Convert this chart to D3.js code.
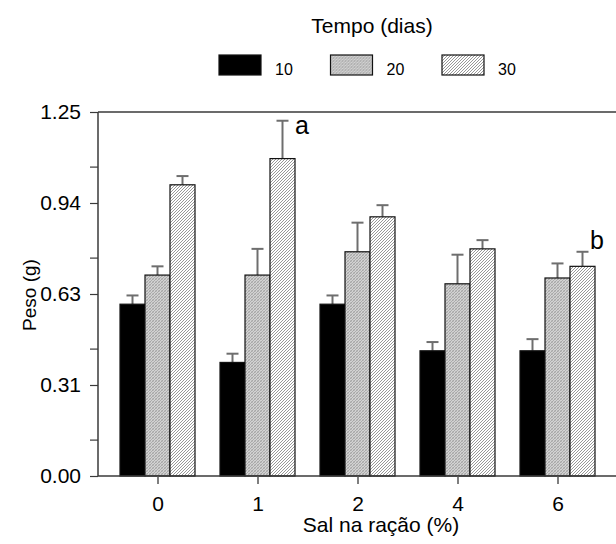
<!DOCTYPE html>
<html>
<head>
<meta charset="utf-8">
<script src="https://cdn.jsdelivr.net/npm/d3@7"></script>
<style>
  html, body { margin: 0; padding: 0; background: #fff; }
  svg { display: block; font-family: Arial, "Liberation Sans", sans-serif; }
</style>
</head>
<body>
<svg id="chart" width="616" height="544"></svg>
<script>
// Salt level in the feed (%)
const categories = ["0", "1", "2", "4", "6"];
// Time (days)
const series = ["10", "20", "30"];
// Mean weight (g) per salt level, one array per time
const mean10 = [0.59, 0.39, 0.59, 0.43, 0.43];
const mean20 = [0.69, 0.69, 0.77, 0.66, 0.68];
const mean30 = [1.00, 1.09, 0.89, 0.78, 0.72];
// Standard error (upper bar)
const err10 = [0.03, 0.03, 0.03, 0.03, 0.04];
const err20 = [0.03, 0.09, 0.10, 0.10, 0.05];
const err30 = [0.03, 0.13, 0.04, 0.03, 0.05];
// Y axis ticks
const yTickValues = [0, 0.3125, 0.625, 0.9375, 1.25];
const yTickLabels = ["0.00", "0.31", "0.63", "0.94", "1.25"];
const yMinorTicks = [0.125, 0.4375, 0.75, 1.0625];
// Significance letters
const letterCats = ["1", "6"];
const letterSeries = ["30", "30"];
const letterTexts = ["a", "b"];

const means = [mean10, mean20, mean30];
const errs = [err10, err20, err30];
const data = [];
categories.forEach((c, i) => {
  series.forEach((s, j) => {
    data.push({ cat: c, series: s, value: means[j][i], err: errs[j][i] });
  });
});

const svg = d3.select("#chart");
const plotLeft = 98, plotTop = 112, plotBottom = 476, plotRight = 616;

// Fill patterns: solid black, grey cross-hatch, light diagonal hatch
const defs = svg.append("defs");
const pGrey = defs.append("pattern").attr("id", "pGrey")
  .attr("patternUnits", "userSpaceOnUse").attr("width", 3).attr("height", 3);
pGrey.append("rect").attr("width", 3).attr("height", 3).attr("fill", "#d2d2d2");
pGrey.append("path").attr("d", "M0,3 L3,0 M-1,1 L1,-1 M2,4 L4,2")
  .attr("stroke", "#9a9a9a").attr("stroke-width", 0.8);
pGrey.append("path").attr("d", "M0,0 L3,3")
  .attr("stroke", "#b0b0b0").attr("stroke-width", 0.6);

const pHatch = defs.append("pattern").attr("id", "pHatch")
  .attr("patternUnits", "userSpaceOnUse").attr("width", 3).attr("height", 3);
pHatch.append("rect").attr("width", 3).attr("height", 3).attr("fill", "#ffffff");
pHatch.append("path").attr("d", "M0,3 L3,0 M-1,1 L1,-1 M2,4 L4,2")
  .attr("stroke", "#8c8c8c").attr("stroke-width", 0.9);

const fills = { "10": "#000000", "20": "url(#pGrey)", "30": "url(#pHatch)" };

const x = d3.scaleBand().domain(categories).range([108, 608]).padding(0);
const xs = d3.scaleBand().domain(series).range([12, 87]).padding(0);
const y = d3.scaleLinear().domain([0, 1.25]).range([plotBottom, plotTop]);

// Error bars (drawn first so the bar outline sits over the stem base)
const eb = svg.append("g");
data.forEach(d => {
  const cx = x(d.cat) + xs(d.series) + xs.bandwidth() / 2;
  eb.append("line").attr("x1", cx).attr("x2", cx)
    .attr("y1", y(d.value)).attr("y2", y(d.value + d.err))
    .attr("stroke", "#6e6e6e").attr("stroke-width", 2);
  eb.append("line").attr("x1", cx - 6).attr("x2", cx + 6)
    .attr("y1", y(d.value + d.err)).attr("y2", y(d.value + d.err))
    .attr("stroke", "#6e6e6e").attr("stroke-width", 2);
});

// Bars
svg.append("g").selectAll("rect").data(data).join("rect")
  .attr("x", d => x(d.cat) + xs(d.series))
  .attr("y", d => y(d.value))
  .attr("width", xs.bandwidth())
  .attr("height", d => y(0) - y(d.value))
  .attr("fill", d => fills[d.series])
  .attr("stroke", "#111").attr("stroke-width", 1.2);

// Frame: left axis, top line, bottom axis
const frame = svg.append("g").attr("stroke", "#3a3a3a").attr("stroke-width", 1.5);
frame.append("line").attr("x1", plotLeft).attr("x2", plotLeft).attr("y1", plotTop).attr("y2", plotBottom);
frame.append("line").attr("x1", plotLeft).attr("x2", plotRight).attr("y1", plotTop).attr("y2", plotTop);
frame.append("line").attr("x1", plotLeft).attr("x2", plotRight).attr("y1", plotBottom).attr("y2", plotBottom);

// Y axis
const yAxis = d3.axisLeft(y).tickValues(yTickValues)
  .tickFormat((d, i) => yTickLabels[i]).tickSizeInner(8).tickSizeOuter(0).tickPadding(9);
const gy = svg.append("g").attr("transform", `translate(${plotLeft},0)`).call(yAxis);
gy.select(".domain").remove();
gy.selectAll(".tick line").attr("stroke", "#3a3a3a").attr("stroke-width", 1.2);
gy.selectAll(".tick text").attr("font-size", 21).attr("fill", "#000")
  .attr("font-family", "Arial, 'Liberation Sans', sans-serif");
const gyMinor = svg.append("g").attr("transform", `translate(${plotLeft},0)`)
  .call(d3.axisLeft(y).tickValues(yMinorTicks).tickFormat("").tickSizeInner(8).tickSizeOuter(0));
gyMinor.select(".domain").remove();
gyMinor.selectAll(".tick line").attr("stroke", "#3a3a3a").attr("stroke-width", 1.2);

// X axis
const xAxis = d3.axisBottom(x).tickSizeInner(8).tickSizeOuter(0).tickPadding(12);
const gx = svg.append("g").attr("transform", `translate(0,${plotBottom})`).call(xAxis);
gx.select(".domain").remove();
gx.selectAll(".tick line").attr("stroke", "#555").attr("stroke-width", 1.5);
gx.selectAll(".tick text").attr("font-size", 21).attr("fill", "#000")
  .attr("font-family", "Arial, 'Liberation Sans', sans-serif");

// Axis titles
svg.append("text").attr("x", 381).attr("y", 532).attr("text-anchor", "middle")
  .attr("font-size", 21).text("Sal na ração (%)");
svg.append("text").attr("transform", "translate(36,295) rotate(-90)")
  .attr("text-anchor", "middle").attr("font-size", 19).text("Peso (g)");

// Significance letters: "a" sits right of its bar, "b" just above its cap
const letterOffsets = [[0, 13], [-5, -3]];
letterTexts.forEach((t, i) => {
  const d = data.find(e => e.cat === letterCats[i] && e.series === letterSeries[i]);
  const barRight = x(d.cat) + xs(d.series) + xs.bandwidth();
  svg.append("text")
    .attr("x", barRight + letterOffsets[i][0])
    .attr("y", y(d.value + d.err) + letterOffsets[i][1])
    .attr("font-size", 25).text(t);
});

// Legend
svg.append("text").attr("x", 372).attr("y", 33).attr("text-anchor", "middle")
  .attr("font-size", 21).text("Tempo (dias)");
const lx = d3.scalePoint().domain(series).range([219, 442]);
const lg = svg.append("g").selectAll("g").data(series).join("g")
  .attr("transform", d => `translate(${lx(d)},55)`);
lg.append("rect").attr("width", 42).attr("height", 20)
  .attr("fill", d => fills[d]).attr("stroke", "#111").attr("stroke-width", 1.2);
lg.append("text").attr("x", 56).attr("y", 20).attr("font-size", 16).text(d => d);
</script>
</body>
</html>
